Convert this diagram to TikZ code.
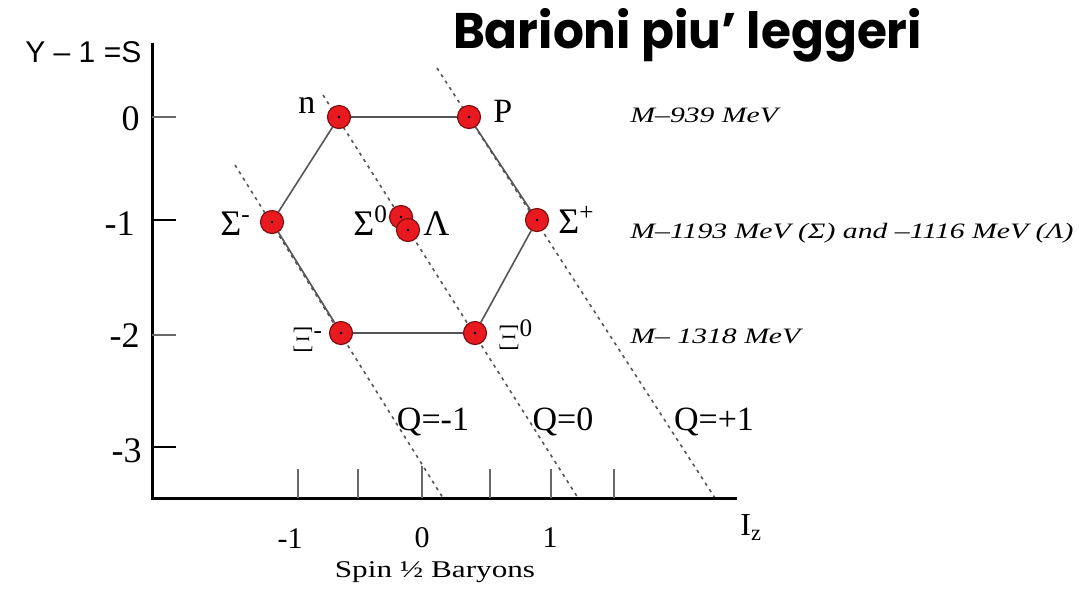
\documentclass[tikz,border=0pt]{standalone}
\usepackage{fontspec}
\setmainfont{Liberation Serif}
\setsansfont{Liberation Sans}
\newfontfamily\titlefont{Poppins}
\definecolor{dotRed}{RGB}{232, 26, 32}
\definecolor{lineGray}{RGB}{85, 85, 85}
\definecolor{tickGray}{RGB}{105, 105, 105}
\usetikzlibrary{backgrounds}

\begin{document}
\begin{tikzpicture}[
    x=0.5pt, y=-0.5pt,
    particle/.style={
      circle, fill=dotRed, draw=dotRed!55!black, line width=0.6pt,
      minimum size=11.5pt, inner sep=0pt,
      path picture={\fill[black] (path picture bounding box.center) circle (0.7pt);}
    },
    plabel/.style={inner sep=0pt, anchor=base west, font=\fontsize{17}{20}\selectfont},
    glabel/.style={plabel, font=\fontsize{18}{21}\selectfont},
    ynum/.style={inner sep=0pt, anchor=base east, font=\fontsize{18}{21}\selectfont},
    xnum/.style={inner sep=0pt, anchor=base, font=\fontsize{15}{18}\selectfont},
    qlabel/.style={inner sep=0pt, anchor=base, font=\fontsize{17}{20}\selectfont},
    mass/.style={inner sep=0pt, anchor=base west, font=\itshape\fontsize{11}{13}\selectfont},
    hexline/.style={lineGray, line width=0.8pt},
    qline/.style={lineGray, line width=0.8pt, dash pattern=on 1.6pt off 2.2pt},
    axis/.style={black, line width=1.5pt},
  ]
    \useasboundingbox (0,0) rectangle (1079,596);

    % Title
    \node[inner sep=0pt, anchor=base, font=\titlefont\bfseries\fontsize{25}{30}\selectfont]
      (title) at (687.5,48) {\resizebox{234.5pt}{\height}{Barioni piu’ leggeri}};

    % Axes
    \coordinate (ytop) at (152,43);
    \coordinate (origin) at (152,498);
    \coordinate (xend) at (737,498);
    \draw[axis] (ytop) -- (origin) -- (xend);
    \node[inner sep=0pt, anchor=base west, font=\sffamily\fontsize{15}{18}\selectfont]
      (ylab) at (25,62) {Y – 1 =S};
    \node[inner sep=0pt, anchor=base west, font=\fontsize{16}{19}\selectfont]
      (xlab) at (740,535) {I\textsubscript{z}};

    % Ticks
    \foreach \ty/\col in {117/tickGray, 220/black, 335/tickGray, 447/black}
      \draw[\col, line width=1pt] (152,\ty) -- (176,\ty);
    \foreach \tx in {298, 358, 490, 551, 614}
      \draw[tickGray, line width=1pt] (\tx,469) -- (\tx,498);
    \draw[tickGray, line width=1pt] (422,466) -- (422,498);

    % Tick labels
    \node[ynum] (y0) at (140,130) {0};
    \node[ynum] (y1) at (135,235) {-1};
    \node[ynum] (y2) at (140,347) {-2};
    \node[ynum] (y3) at (142,462) {-3};
    \node[xnum] (xm1) at (290,548) {-1};
    \node[xnum] (x0) at (422,547) {0};
    \node[xnum] (x1) at (550,547) {1};
    \node[inner sep=0pt, anchor=base, font=\fontsize{12}{14}\selectfont]
      (caption) at (435,577) {\scalebox{1.3}[1]{Spin ½ Baryons}};

    % Octet
    \node[particle] (n) at (339,117) {};
    \node[particle] (p) at (469,117) {};
    \node[particle] (sigm) at (272,222) {};
    \node[particle] (sigz) at (401,217) {};
    \node[particle] (lam) at (408,230) {};
    \node[particle] (sigp) at (537,220) {};
    \node[particle] (xim) at (341,333) {};
    \node[particle] (xiz) at (475,333) {};

    \node[plabel] (nlab) at (298,113) {n};
    \node[plabel] (plab) at (493,122) {P};
    \node[glabel] (sigmlab) at (220,235) {Σ\textsuperscript{-}};
    \node[glabel] (sigzlab) at (353,235) {Σ\textsuperscript{0}};
    \node[glabel] (lamlab) at (423,235) {Λ};
    \node[glabel] (sigplab) at (558,233) {Σ\textsuperscript{+}};
    \node[glabel] (ximlab) at (292,351) {$\Xi$\textsuperscript{-}};
    \node[glabel] (xizlab) at (498,349) {$\Xi$\textsuperscript{0}};

    % Charge lines
    \coordinate (qm1a) at (235,165);
    \coordinate (qm1b) at (443,498);
    \coordinate (qza) at (323,95);
    \coordinate (qzb) at (578,498);
    \coordinate (qp1a) at (437,68);
    \coordinate (qp1b) at (715,498);
    \node[qlabel] (qm1) at (433,430) {Q=-1};
    \node[qlabel] (qz) at (563,430) {Q=0};
    \node[qlabel] (qp1) at (714,430) {Q=+1};

    \begin{scope}[on background layer]
      \draw[hexline] (n) -- (p) -- (sigp) -- (xiz) -- (xim) -- (sigm) -- (n);
      \draw[qline] (qm1a) -- (qm1b);
      \draw[qline] (qza) -- (qzb);
      \draw[qline] (qp1a) -- (qp1b);
    \end{scope}

    % Masses
    \node[mass] (m1) at (630,122) {\scalebox{1.35}[1]{M–939 MeV}};
    \node[mass] (m2) at (630,238) {\scalebox{1.35}[1]{M–1193 MeV (Σ) and –1116 MeV (Λ)}};
    \node[mass] (m3) at (630,343) {\scalebox{1.35}[1]{M– 1318 MeV}};
  \end{tikzpicture}
\end{document}
